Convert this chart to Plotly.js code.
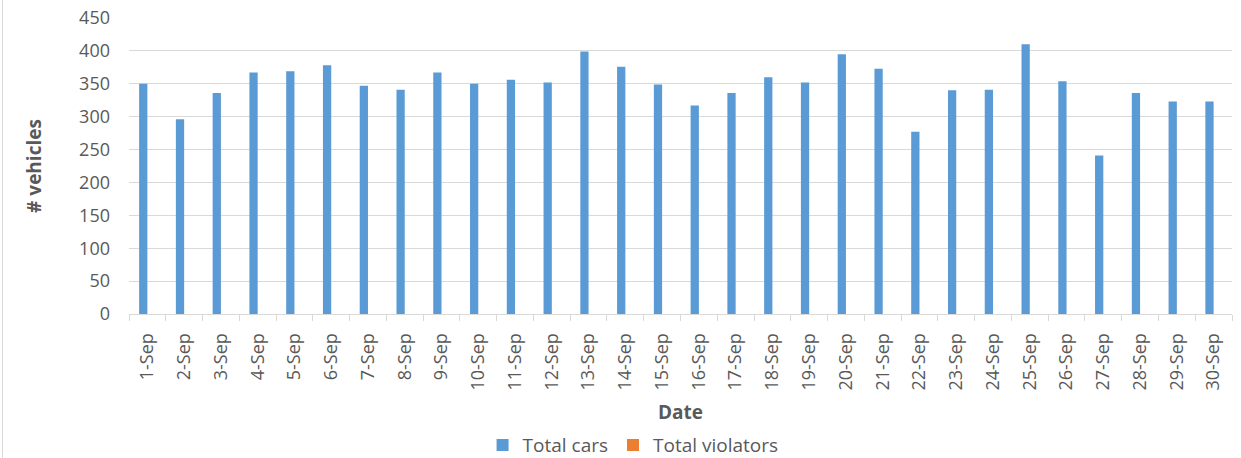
<!DOCTYPE html>
<html>
<head>
<meta charset="utf-8">
<script src="https://cdn.plot.ly/plotly-3.0.1.min.js"></script>
<style>
  html, body { margin: 0; padding: 0; background: #ffffff; }
  #wrap { position: relative; width: 1241px; height: 458px; overflow: hidden; }
  #edge { position: absolute; left: 2px; top: 0; width: 1px; height: 458px; background: #d9d9d9; }
  #chart { position: absolute; left: 0; top: 0; width: 1241px; height: 458px; }
</style>
</head>
<body>
<div id="wrap">
  <div id="chart"></div>
  <div id="edge"></div>
</div>
<script>
const dates = ['1-Sep','2-Sep','3-Sep','4-Sep','5-Sep','6-Sep','7-Sep','8-Sep','9-Sep','10-Sep',
               '11-Sep','12-Sep','13-Sep','14-Sep','15-Sep','16-Sep','17-Sep','18-Sep','19-Sep','20-Sep',
               '21-Sep','22-Sep','23-Sep','24-Sep','25-Sep','26-Sep','27-Sep','28-Sep','29-Sep','30-Sep'];
const totalCars = [350, 296, 336, 367, 369, 378, 347, 341, 367, 350,
                   356, 352, 399, 376, 349, 317, 336, 360, 352, 395,
                   373, 277, 340, 341, 410, 354, 241, 336, 323, 323];
const totalViolators = [0, 0, 0, 0, 0, 0, 0, 0, 0, 0,
                        0, 0, 0, 0, 0, 0, 0, 0, 0, 0,
                        0, 0, 0, 0, 0, 0, 0, 0, 0, 0];
const seriesNames = ['Total cars', 'Total violators'];
const yTicks = [0, 50, 100, 150, 200, 250, 300, 350, 400, 450];

const FONT = '"Open Sans", "Liberation Sans", sans-serif';
const GREY = '#595959';

const traces = [
  { type: 'bar', name: seriesNames[0], x: dates, y: totalCars,
    marker: { color: '#5B9BD5' }, hoverinfo: 'x+y' },
  { type: 'bar', name: seriesNames[1], x: dates, y: totalViolators,
    marker: { color: '#ED7D31' }, hoverinfo: 'x+y' }
];

const layout = {
  width: 1241, height: 458,
  margin: { l: 129, r: 9, t: 18, b: 144, pad: 0, autoexpand: false },
  paper_bgcolor: '#ffffff', plot_bgcolor: '#ffffff',
  font: { family: FONT, size: 18, color: GREY },
  barmode: 'group', bargap: 0.55, bargroupgap: 0,
  showlegend: true,
  legend: {
    orientation: 'h', x: 0.457, xanchor: 'center', y: -0.443, yanchor: 'middle',
    font: { family: FONT, size: 19, color: GREY },
    itemwidth: 30, tracegroupgap: 0, bgcolor: 'rgba(0,0,0,0)'
  },
  xaxis: {
    type: 'category', categoryorder: 'array', categoryarray: dates,
    automargin: false,
    tickangle: -90, tickson: 'boundaries', ticks: 'outside', ticklen: 6,
    tickcolor: '#d9d9d9', tickwidth: 1,
    showline: true, linecolor: '#d9d9d9', linewidth: 1,
    showgrid: false, zeroline: false,
    tickfont: { family: FONT, size: 18, color: GREY },
    ticklabelstandoff: 11,
    title: { text: 'Date', font: { family: FONT, size: 19, color: GREY, weight: 'bold' }, standoff: 16 }
  },
  yaxis: {
    range: [0, 450], tickmode: 'array', tickvals: yTicks, ticktext: yTicks.map(String),
    automargin: false,
    showgrid: true, gridcolor: '#d9d9d9', gridwidth: 1,
    zeroline: false, showline: false, ticks: '',
    tickfont: { family: FONT, size: 18, color: GREY },
    ticklabelstandoff: 18,
    title: { text: '# vehicles', font: { family: FONT, size: 19, color: GREY, weight: 'bold' }, standoff: 32 }
  }
};

Plotly.newPlot('chart', traces, layout, { displayModeBar: false, staticPlot: true });
</script>
</body>
</html>
